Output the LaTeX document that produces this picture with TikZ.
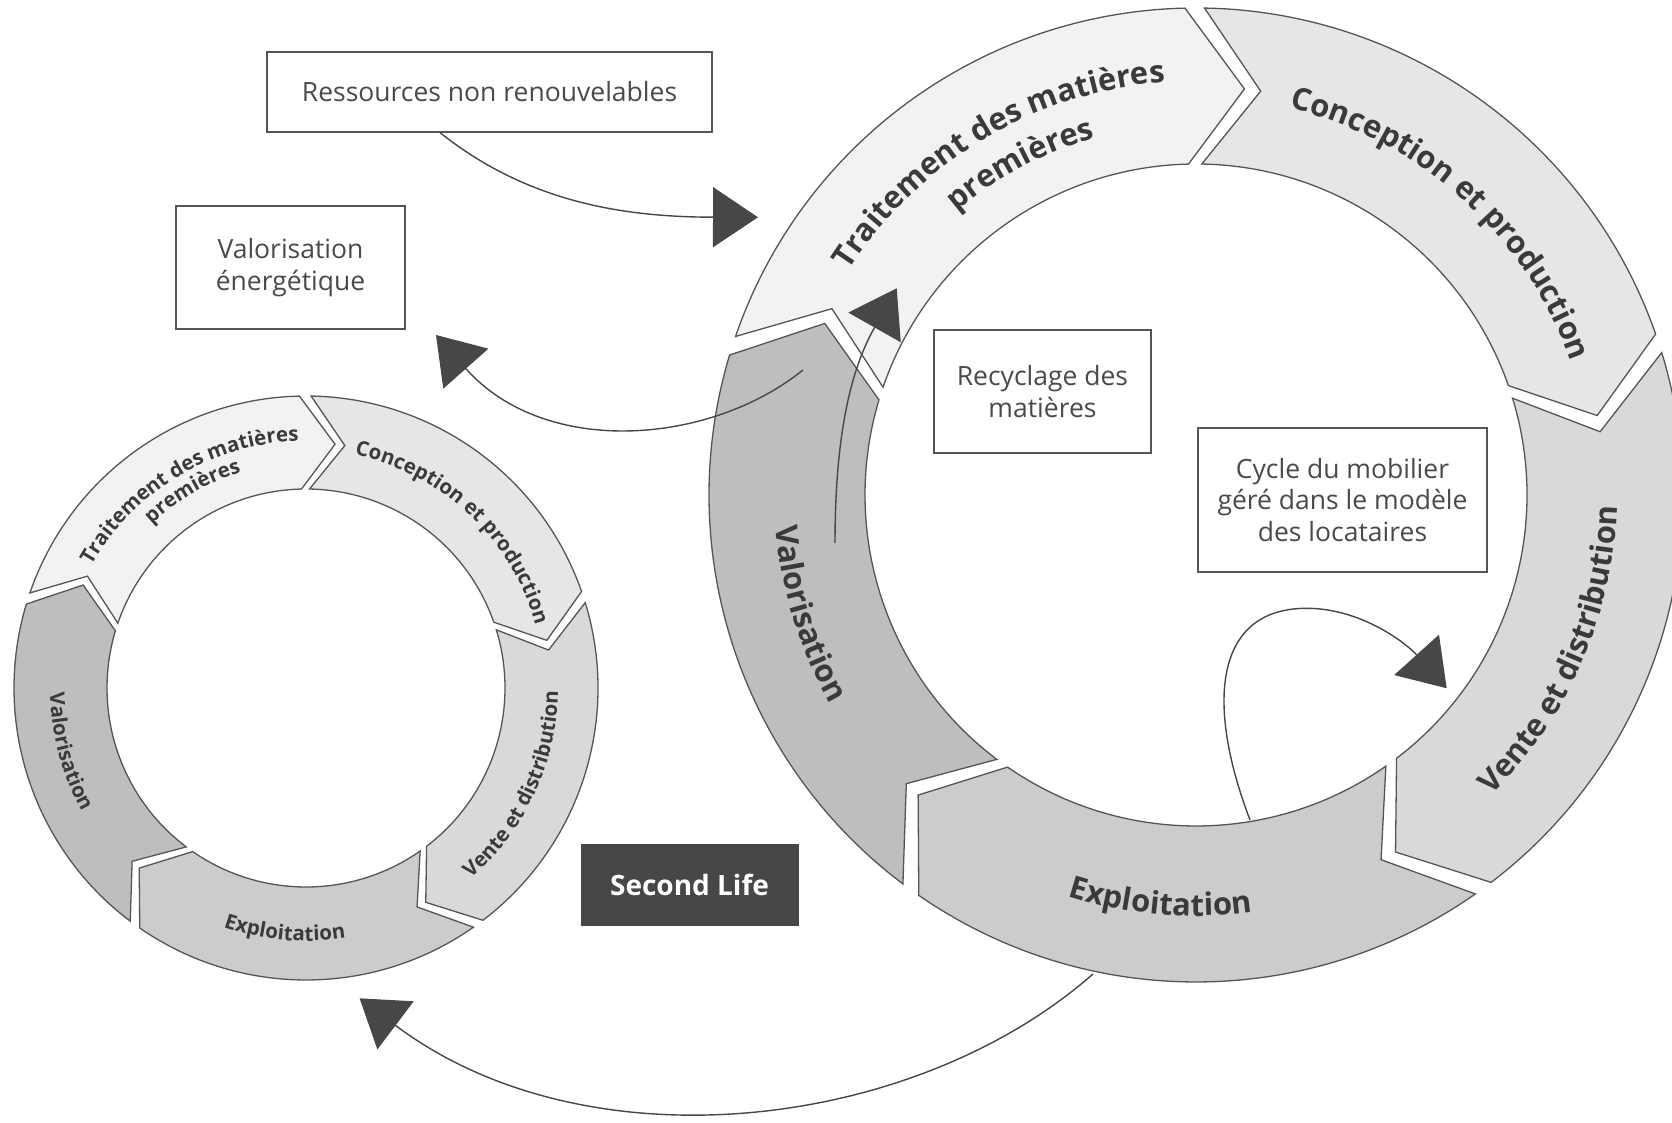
\documentclass[tikz,border=0pt]{standalone}
\usepackage{fontspec}
\setmainfont{Open Sans}
\usetikzlibrary{arrows.meta,decorations.text}
\definecolor{segA}{HTML}{F2F2F2}
\definecolor{segB}{HTML}{E6E6E6}
\definecolor{segC}{HTML}{D9D9D9}
\definecolor{segD}{HTML}{CCCCCC}
\definecolor{segE}{HTML}{BEBEBE}
\definecolor{edgegray}{HTML}{555555}
\definecolor{inkgray}{HTML}{3A3A3A}
\definecolor{boxink}{HTML}{4A4A4A}
\definecolor{darkbox}{HTML}{474747}
\newcommand\ringfontA{\fontsize{31}{31}\selectfont\bfseries}
\newcommand\ringfontB{\fontsize{20.5}{20.5}\selectfont\bfseries}
\newcommand\boxfont{\fontsize{26.5}{31.5}\selectfont}
% segment: start angle, fill, outer radius, inner radius
\newcommand\ringseg[4]{%
  \filldraw[segline, fill=#2]
    (#1:#3) arc[start angle=#1, end angle={#1-69.7}, radius=#3]
    -- ({#1-77.8}:{(#3+#4)/2})
    -- ({#1-69.7}:#4) arc[start angle={#1-69.7}, end angle=#1, radius=#4]
    -- ({#1-8.1}:{(#3+#4)/2}) -- cycle;}
% curved label: start angle, end angle, radius, font, text
\newcommand\arclabel[5]{%
  \path[decorate, decoration={text along path, text align=center,
    text color=inkgray, text={|#4|#5}}]
    (#1:#3) arc[start angle=#1, end angle=#2, radius=#3];}
\tikzset{
  segline/.style={draw=edgegray, line width=1.3pt, line join=miter},
  box/.style={draw=edgegray, line width=1.3pt, fill=white, inner sep=0pt,
    text=boxink, font=\boxfont, align=center},
  conn/.style={draw=darkbox, line width=1.4pt,
    -{Triangle[length=45pt,width=60pt]}, fill=none},
}
\begin{document}
\begin{tikzpicture}[x=1pt,y=1pt]
\fill[white] (0,0) rectangle (1672,1122);
\useasboundingbox (0,0) rectangle (1672,1122);

% ---------- big ring ----------
\begin{scope}[shift={(1196,627)}]
  \ringseg{161}{segA}{487}{331}
  \ringseg{89}{segB}{487}{331}
  \ringseg{17}{segC}{487}{331}
  \ringseg{-55}{segD}{487}{331}
  \ringseg{-127}{segE}{487}{331}
  \arclabel{165.7}{75.7}{414}{\ringfontA}{Traitement des matières}
  \arclabel{163}{73}{371}{\ringfontA}{premières}
  \arclabel{93}{3}{398}{\ringfontA}{Conception et production}
  \arclabel{-68.5}{21.5}{421}{\ringfontA}{Vente et distribution}
  \arclabel{-140}{-50}{421}{\ringfontA}{Exploitation}
  \arclabel{152}{242}{421}{\ringfontA}{Valorisation}
\end{scope}

% ---------- small ring ----------
\begin{scope}[shift={(306,434)}]
  \ringseg{161}{segA}{292}{199}
  \ringseg{89}{segB}{292}{199}
  \ringseg{17}{segC}{292}{199}
  \ringseg{-55}{segD}{292}{199}
  \ringseg{-127}{segE}{292}{199}
  \arclabel{166}{76}{247}{\ringfontB}{Traitement des matières}
  \arclabel{165}{75}{225}{\ringfontB}{premières}
  \arclabel{91.8}{1.8}{238}{\ringfontB}{Conception et production}
  \arclabel{-70}{20}{252}{\ringfontB}{Vente et distribution}
  \arclabel{-140}{-50}{253}{\ringfontB}{Exploitation}
  \arclabel{150}{240}{256}{\ringfontB}{Valorisation}
\end{scope}

% ---------- boxes ----------
\node[box, minimum width=445pt, minimum height=80pt] (res) at (489.5,1030) {Ressources non renouvelables};
\node[box, minimum width=229pt, minimum height=123pt] (ven) at (290.5,854.5) {Valorisation\\énergétique};
\node[box, minimum width=217pt, minimum height=123pt] (rec) at (1042.5,730.5) {Recyclage des\\matières};
\node[box, minimum width=289pt, minimum height=144pt] (cyc) at (1342.5,622) {Cycle du mobilier\\géré dans le modèle\\des locataires};
\node[draw=darkbox, fill=darkbox, line width=1pt, minimum width=217pt, minimum height=80pt,
  text=white, font=\fontsize{28}{28}\selectfont\bfseries] (sl) at (689.5,237) {Second Life};

% ---------- connector end points ----------
\coordinate (trtin) at (758,904.7);
\coordinate (valout) at (803,752);
\coordinate (venin) at (436,787);
\coordinate (valin) at (835,579);
\coordinate (trtrec) at (896.7,833.7);
\coordinate (expin) at (1250,302);
\coordinate (loopin) at (1446.7,433.7);
\coordinate (expout) at (1093,148);
\coordinate (small) at (359.6,123.7);

% ---------- connectors ----------
\draw[conn] ([xshift=-49.5pt]res.south) .. controls (526,921) and (620,905) .. (trtin);
\draw[conn] (valout) .. controls (710,677) and (545,664) .. (venin);
\draw[conn] (valin) .. controls (835,700) and (855,760) .. (trtrec);
\draw[conn] (expin) .. controls (1205,420) and (1215,513.7) .. (1306.7,513.7)
   .. controls (1360,513.7) and (1405,480) .. (loopin);
\draw[conn] (expout) .. controls (913,-10) and (586,-47) .. (small);
\end{tikzpicture}
\end{document}
